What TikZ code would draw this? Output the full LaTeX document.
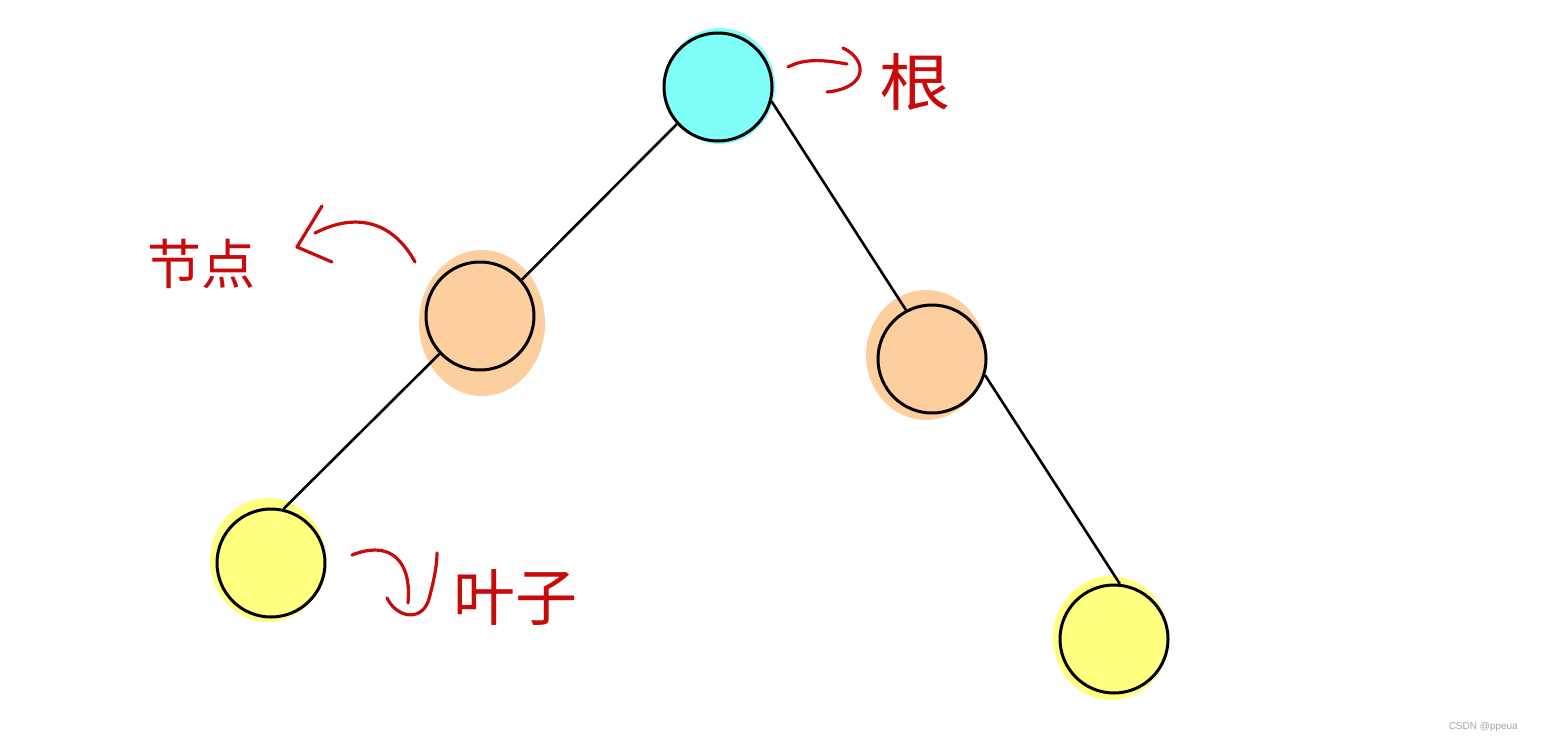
\documentclass[tikz,border=0pt]{standalone}
\usepackage{fontspec}
\newfontfamily\cjk{Noto Sans CJK SC}
\setmainfont{Liberation Sans}
\definecolor{cyanfill}{RGB}{128,255,248}
\definecolor{peach}{RGB}{253,207,158}
\definecolor{leafy}{RGB}{255,255,128}
\definecolor{inkred}{RGB}{200,10,10}
\begin{document}
\begin{tikzpicture}[x=1pt,y=-1pt,
  treenode/.style={circle,draw=black,line width=3pt,minimum size=108pt,inner sep=0pt},
  blob/.style={fill=#1,draw=none},
  edge/.style={draw=black,line width=2.6pt},
  ink/.style={draw=inkred,line width=3.2pt,line cap=round,line join=round},
  lbl/.style={text=inkred,font=\cjk\fontsize{#1}{#1}\selectfont,inner sep=0pt}]
\useasboundingbox[fill=white] (0,0) rectangle (1546,742);
% blobs
\fill[blob=cyanfill] (720,86) ellipse (55 and 58);
\fill[blob=peach] (482,323) ellipse (63 and 73);
\fill[blob=peach] (926,355) ellipse (60 and 65);
\fill[blob=leafy] (268,560) ellipse (58 and 62);
\fill[blob=leafy] (1111,638) ellipse (58 and 62);
% nodes
\node[treenode,fill=cyanfill] (root) at (718,87) {};
\node[treenode,fill=peach] (l) at (480,316) {};
\node[treenode,fill=peach] (r) at (932,359) {};
\node[treenode,fill=leafy] (ll) at (271,563) {};
\node[treenode,fill=leafy] (rr) at (1114,639) {};
\path[edge] (root.222) -- (l.41);
\path[edge] (root.345) -- (r.118);
\path[edge] (l.223) -- (ll.77);
\path[edge] (r.343) -- (rr.84);
% labels
\node[lbl=62,xscale=1.15] (tgen) at (915,82) {根};
\node[lbl=54] (tjd) at (201,264) {节点};
\node[lbl=62] (tyz) at (515,597) {叶子};
% hand-drawn arrows
\coordinate (a1s) at (788,67);
\coordinate (a1e) at (827,92);
\draw[ink] (a1s) .. controls (805,58) and (825,60) .. (847,64);
\draw[ink] (843,48) .. controls (868,60) and (868,88) .. (a1e);
\coordinate (a2s) at (415,262);
\coordinate (a2e) at (297,247);
\draw[ink] (a2s) .. controls (395,225) and (360,210) .. (315,233);
\draw[ink] (322,206) -- (a2e) -- (332,262);
\coordinate (a3s) at (352,555);
\coordinate (a3e) at (437,553);
\draw[ink] (a3s) .. controls (390,540) and (412,560) .. (408,603);
\draw[ink] (387,598) .. controls (398,620) and (425,622) .. (430,595)
  .. controls (434,580) and (437,565) .. (a3e);
% watermark
\node[text=gray!70,font=\fontsize{10}{10}\selectfont,anchor=east,inner sep=0pt] (wm) at (1518,727) {CSDN @ppeua};
\end{tikzpicture}
\end{document}
